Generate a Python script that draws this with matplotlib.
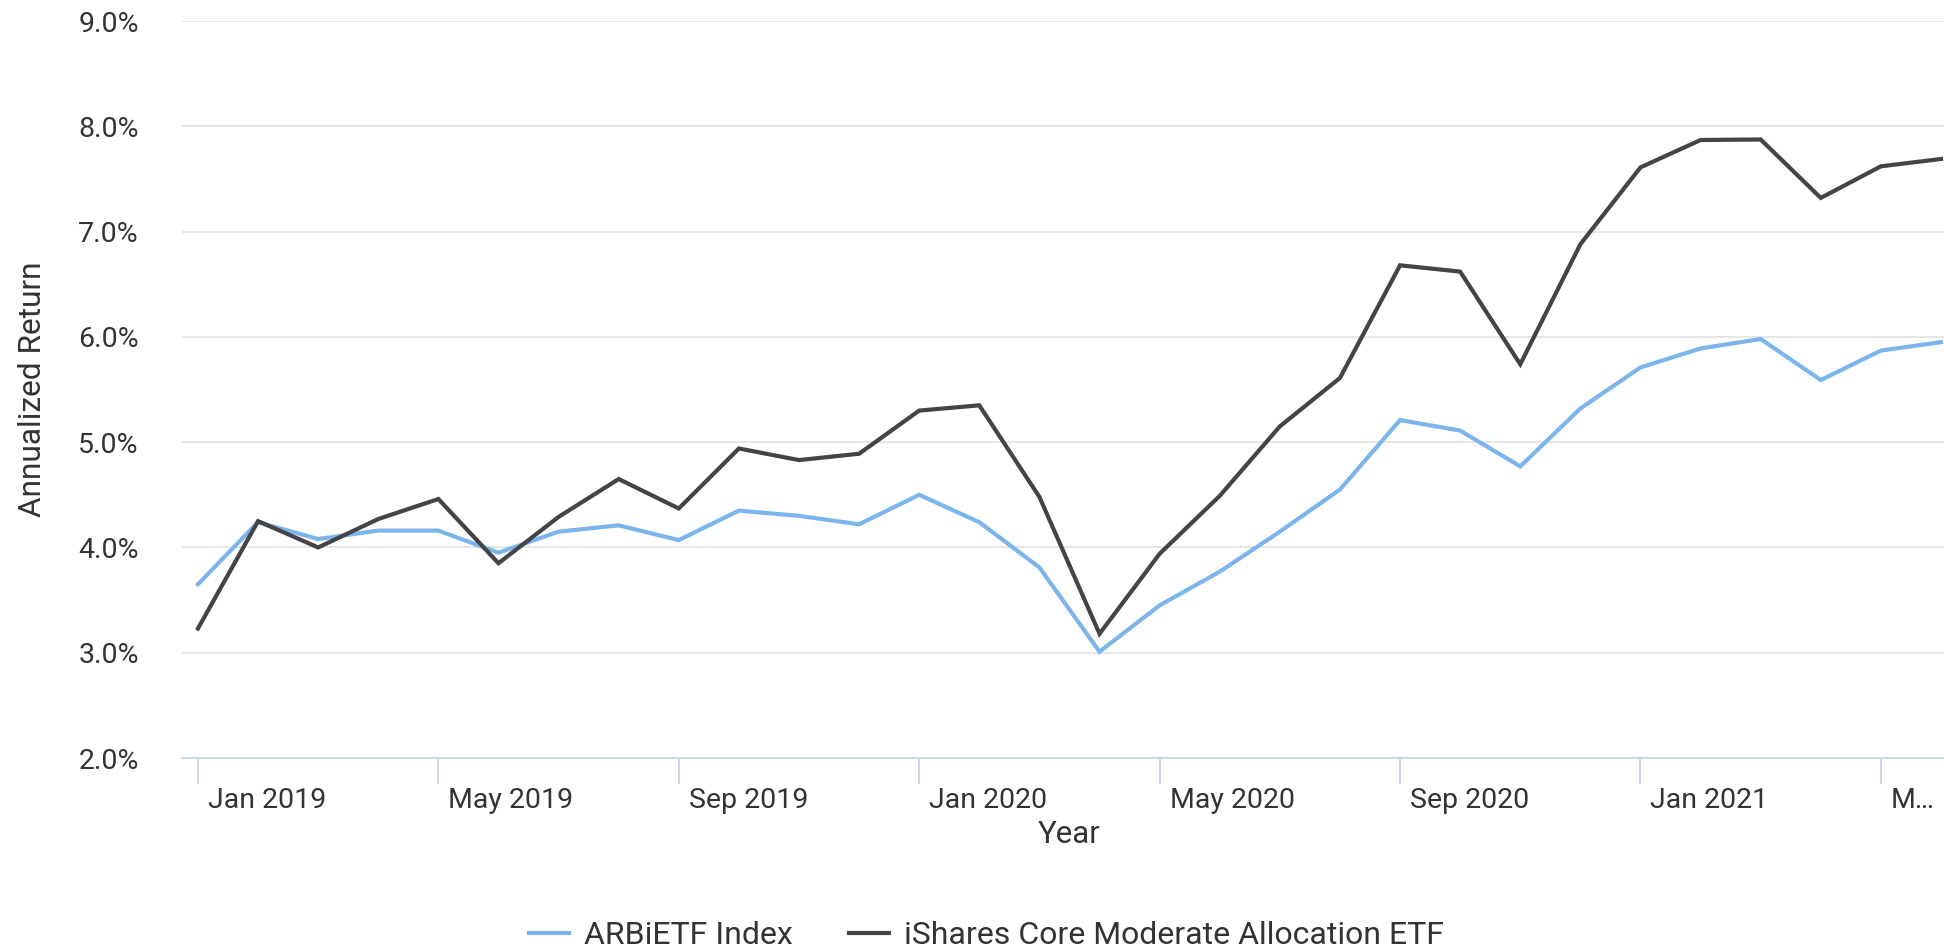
import matplotlib
matplotlib.use("Agg")
import matplotlib.pyplot as plt
import matplotlib.transforms as mtransforms
import numpy as np

# 月度数据（年化收益率，%）
months = ["Jan 2019", "Feb 2019", "Mar 2019", "Apr 2019", "May 2019", "Jun 2019",
          "Jul 2019", "Aug 2019", "Sep 2019", "Oct 2019", "Nov 2019", "Dec 2019",
          "Jan 2020", "Feb 2020", "Mar 2020", "Apr 2020", "May 2020", "Jun 2020",
          "Jul 2020", "Aug 2020", "Sep 2020", "Oct 2020", "Nov 2020", "Dec 2020",
          "Jan 2021", "Feb 2021", "Mar 2021", "Apr 2021", "May 2021", "Jun 2021"]
arbietf = [3.65, 4.24, 4.08, 4.16, 4.16, 3.95, 4.15, 4.21, 4.07, 4.35,
           4.30, 4.22, 4.50, 4.24, 3.81, 3.01, 3.45, 3.77, 4.15, 4.55,
           5.21, 5.11, 4.77, 5.32, 5.71, 5.89, 5.98, 5.59, 5.87, 5.95]
ishares = [3.23, 4.25, 4.00, 4.27, 4.46, 3.85, 4.29, 4.65, 4.37, 4.94,
           4.83, 4.89, 5.30, 5.35, 4.48, 3.18, 3.94, 4.49, 5.15, 5.61,
           6.68, 6.62, 5.74, 6.88, 7.61, 7.87, 7.875, 7.32, 7.62, 7.69]
tick_idx = [0, 4, 8, 12, 16, 20, 24, 28]
tick_labels = ["Jan 2019", "May 2019", "Sep 2019", "Jan 2020", "May 2020",
               "Sep 2020", "Jan 2021", "M\u2026"]
y_ticks = [2, 3, 4, 5, 6, 7, 8, 9]

plt.rcParams['font.family'] = ['Roboto', 'DejaVu Sans']
txt_color = "#333333"

fig = plt.figure(figsize=(19.44, 9.48), dpi=100)
ax = fig.add_axes([0.0936, 0.2004, 0.9064, 0.7774])

x = np.arange(len(months))
ax.plot(x, arbietf, color="#7cb5ec", lw=3.0, label="ARBiETF Index", solid_joinstyle='miter')
ax.plot(x, ishares, color="#434348", lw=3.0, label="iShares Core Moderate Allocation ETF",
        solid_joinstyle='miter')

ax.set_xlim(-0.266, 29.05)
ax.set_ylim(2, 9)
ax.set_yticks(y_ticks)
ax.set_yticklabels(["%.1f%%" % v for v in y_ticks])
ax.grid(axis='y', color="#e6e6e6", lw=1.4)
ax.set_axisbelow(True)

for s in ['top', 'right', 'left']:
    ax.spines[s].set_visible(False)
ax.spines['bottom'].set_color("#ccd6eb")
ax.spines['bottom'].set_linewidth(1.5)

ax.set_xticks(tick_idx)
ax.set_xticklabels(tick_labels, ha='left')
ax.tick_params(axis='x', length=18.7, width=1.4, color="#ccd6eb", pad=2,
               labelsize=20.5, labelcolor=txt_color)
ax.tick_params(axis='y', length=0, pad=31, labelsize=20.5, labelcolor=txt_color)

# 刻度标签右移一点
offset = mtransforms.ScaledTranslation(0.10, 0, fig.dpi_scale_trans)
for lab in ax.get_xticklabels():
    lab.set_transform(lab.get_transform() + offset)

ax.set_xlabel("Year", fontsize=22.5, color=txt_color)
ax.xaxis.set_label_coords(0.5034, -0.084)
ax.set_ylabel("Annualized Return", fontsize=22.8, color=txt_color)
ax.yaxis.set_label_coords(-0.0766, 0.5)

fig.legend(loc='center', bbox_to_anchor=(0.5075, 0.0127), ncol=2, frameon=False,
           fontsize=23, handlelength=1.25, handletextpad=0.47, columnspacing=1.75,
           labelcolor=txt_color)

fig.savefig("out.png", dpi=100, facecolor='white')
